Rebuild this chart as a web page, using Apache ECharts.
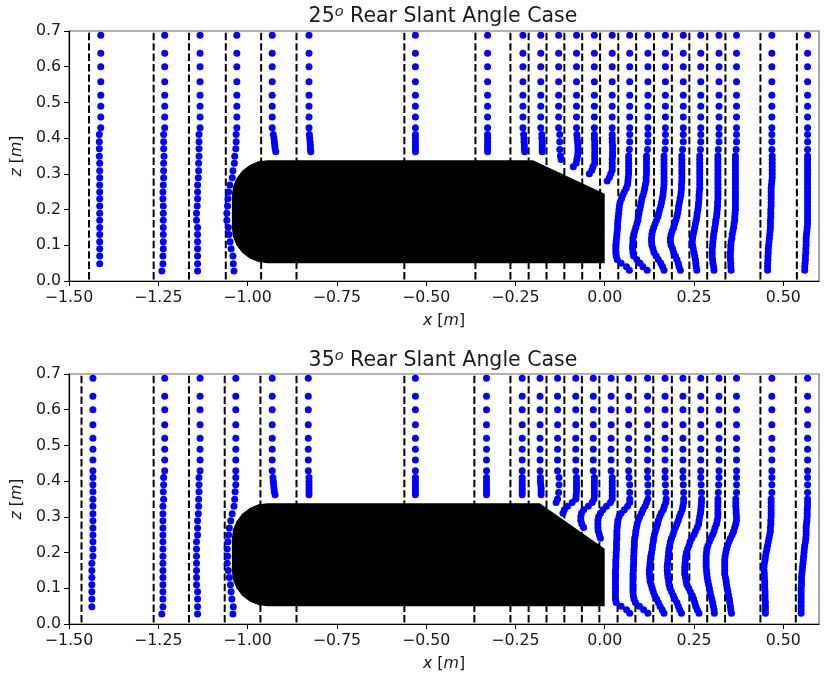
<!DOCTYPE html>
<html>
<head>
<meta charset="utf-8">
<title>Rear slant angle wake profiles</title>
<script src="https://cdn.jsdelivr.net/npm/echarts@6/dist/echarts.min.js"></script>
<style>
  html, body { margin: 0; padding: 0; background: #fff; }
  #chart { width: 840px; height: 676px; }
</style>
</head>
<body>
<div id="chart"></div>
<script>
// tick labels
var xTicks = [-1.5, -1.25, -1, -0.75, -0.5, -0.25, 0, 0.25, 0.5];
var zTicks = [0, 0.1, 0.2, 0.3, 0.4, 0.5, 0.6, 0.7];

// z levels shared by the traverses
var upperZ = [0.688, 0.638, 0.6, 0.558, 0.52, 0.489, 0.459, 0.429];
var coarseZ = [0.41, 0.39, 0.37, 0.349, 0.33, 0.309, 0.289, 0.269, 0.249, 0.23, 0.21, 0.19, 0.17, 0.15, 0.13, 0.11, 0.09, 0.07, 0.048, 0.028];
var roofZ = [0.41, 0.4, 0.39, 0.38, 0.37, 0.362];
var slantZ = [0.41, 0.4, 0.39, 0.38, 0.37, 0.36, 0.35, 0.34, 0.33, 0.32, 0.31, 0.3, 0.29, 0.28, 0.27, 0.26, 0.25, 0.24];
var wakeZ = [0.41, 0.39, 0.368, 0.35, 0.34, 0.33, 0.32, 0.31, 0.3, 0.29, 0.28, 0.27, 0.26, 0.25, 0.24, 0.23, 0.22, 0.21, 0.2, 0.19, 0.18, 0.17, 0.16, 0.15, 0.14, 0.13, 0.12, 0.11, 0.1, 0.09, 0.08, 0.07, 0.06, 0.05, 0.04, 0.03];

// measurement stations (dashed lines)
var topDashX = [-1.444, -1.263, -1.164, -1.061, -0.962, -0.863, -0.561, -0.362, -0.264, -0.213, -0.163, -0.113, -0.063, -0.013, 0.038, 0.088, 0.138, 0.188, 0.237, 0.287, 0.338, 0.436, 0.538];
var botDashX = [-1.465, -1.263, -1.164, -1.064, -0.964, -0.863, -0.561, -0.365, -0.264, -0.213, -0.163, -0.113, -0.064, -0.015, 0.036, 0.086, 0.136, 0.188, 0.237, 0.287, 0.337, 0.436, 0.535];

// x of the dots above z = 0.42, one per traverse
var topUpperX = [-1.411, -1.232, -1.133, -1.03, -0.931, -0.828, -0.53, -0.328, -0.229, -0.179, -0.129, -0.079, -0.029, 0.021, 0.07, 0.121, 0.17, 0.22, 0.269, 0.32, 0.369, 0.468, 0.568];
var botUpperX = [-1.433, -1.232, -1.133, -1.033, -0.931, -0.83, -0.53, -0.331, -0.231, -0.181, -0.132, -0.081, -0.032, 0.018, 0.067, 0.12, 0.169, 0.219, 0.269, 0.32, 0.369, 0.468, 0.568];

// 25 deg case, x of the lower dots
var t01 = [-1.415, -1.415, -1.415, -1.415, -1.414, -1.414, -1.414, -1.414, -1.414, -1.414, -1.414, -1.414, -1.414, -1.414, -1.414, -1.414, -1.414, -1.414, -1.414];
var t02 = [-1.235, -1.235, -1.235, -1.234, -1.235, -1.235, -1.235, -1.236, -1.237, -1.237, -1.236, -1.236, -1.236, -1.236, -1.236, -1.236, -1.236, -1.237, -1.237, -1.24];
var t03 = [-1.136, -1.136, -1.136, -1.136, -1.137, -1.137, -1.138, -1.14, -1.14, -1.14, -1.141, -1.143, -1.143, -1.14, -1.14, -1.14, -1.14, -1.14, -1.14, -1.14];
var t04 = [-1.032, -1.032, -1.033, -1.036, -1.037, -1.041, -1.043, -1.05, -1.053, -1.055, -1.056, -1.058, -1.058, -1.054, -1.052, -1.049, -1.046, -1.041, -1.04, -1.038];
var t05 = [-0.928, -0.926, -0.925, -0.924, -0.923, -0.921];
var t06 = [-0.827, -0.826, -0.825, -0.824, -0.824, -0.823];
var t07 = [-0.53, -0.53, -0.53, -0.53, -0.53, -0.53];
var t08 = [-0.328, -0.328, -0.328, -0.328, -0.328, -0.328];
var t09 = [-0.227, -0.226, -0.226, -0.225, -0.225, -0.224];
var t10 = [-0.176, -0.176, -0.175, -0.175, -0.175, -0.175];
var t11 = [-0.126, -0.126, -0.126, -0.124, -0.122];
var t12 = [-0.078, -0.077, -0.076, -0.075, -0.075, -0.075, -0.076, -0.078, -0.08, -0.088];
var t13 = [-0.029, -0.029, -0.028, -0.028, -0.028, -0.028, -0.028, -0.028, -0.028, -0.033, -0.036, -0.043];
var t14 = [0.021, 0.021, 0.021, 0.022, 0.022, 0.022, 0.022, 0.021, 0.021, 0.021, 0.021, 0.017, 0.013, 0.007];
var t15 = [0.07, 0.07, 0.069, 0.067, 0.067, 0.067, 0.067, 0.067, 0.067, 0.066, 0.065, 0.064, 0.06, 0.055, 0.05, 0.047, 0.043, 0.041, 0.04, 0.039, 0.038, 0.037, 0.036, 0.036, 0.035, 0.034, 0.033, 0.032, 0.031, 0.031, 0.031, 0.032, 0.035, 0.046, 0.061, 0.069];
var t16 = [0.121, 0.121, 0.12, 0.117, 0.117, 0.117, 0.117, 0.117, 0.117, 0.116, 0.116, 0.114, 0.112, 0.11, 0.107, 0.104, 0.102, 0.1, 0.098, 0.096, 0.094, 0.093, 0.09, 0.087, 0.084, 0.081, 0.079, 0.079, 0.078, 0.078, 0.079, 0.081, 0.09, 0.099, 0.107, 0.119];
var t17 = [0.17, 0.17, 0.169, 0.166, 0.166, 0.166, 0.166, 0.166, 0.166, 0.166, 0.166, 0.166, 0.165, 0.164, 0.163, 0.161, 0.159, 0.157, 0.154, 0.151, 0.149, 0.145, 0.141, 0.137, 0.134, 0.132, 0.131, 0.131, 0.132, 0.135, 0.138, 0.144, 0.15, 0.157, 0.162, 0.166];
var t18 = [0.22, 0.22, 0.218, 0.216, 0.216, 0.216, 0.216, 0.216, 0.216, 0.216, 0.216, 0.215, 0.215, 0.214, 0.213, 0.211, 0.209, 0.207, 0.206, 0.204, 0.202, 0.199, 0.196, 0.193, 0.189, 0.186, 0.184, 0.184, 0.186, 0.19, 0.193, 0.198, 0.202, 0.206, 0.208, 0.212];
var t19 = [0.269, 0.269, 0.268, 0.266, 0.266, 0.266, 0.266, 0.266, 0.266, 0.266, 0.266, 0.266, 0.266, 0.265, 0.264, 0.264, 0.263, 0.262, 0.261, 0.259, 0.258, 0.256, 0.254, 0.252, 0.25, 0.248, 0.246, 0.245, 0.246, 0.248, 0.25, 0.252, 0.254, 0.255, 0.256, 0.258];
var t20 = [0.32, 0.32, 0.318, 0.317, 0.317, 0.317, 0.317, 0.317, 0.317, 0.317, 0.317, 0.317, 0.317, 0.317, 0.317, 0.317, 0.316, 0.316, 0.315, 0.314, 0.313, 0.311, 0.31, 0.308, 0.307, 0.305, 0.304, 0.303, 0.302, 0.301, 0.301, 0.301, 0.302, 0.303, 0.305, 0.306];
var t21 = [0.369, 0.369, 0.368, 0.366, 0.366, 0.366, 0.366, 0.366, 0.366, 0.366, 0.366, 0.366, 0.366, 0.366, 0.366, 0.366, 0.366, 0.366, 0.366, 0.365, 0.364, 0.364, 0.362, 0.361, 0.359, 0.357, 0.356, 0.354, 0.353, 0.353, 0.352, 0.352, 0.352, 0.353, 0.353, 0.354];
var t22 = [0.468, 0.468, 0.468, 0.469, 0.469, 0.469, 0.469, 0.469, 0.469, 0.469, 0.468, 0.467, 0.466, 0.466, 0.466, 0.466, 0.466, 0.466, 0.465, 0.465, 0.465, 0.464, 0.464, 0.464, 0.463, 0.462, 0.461, 0.46, 0.459, 0.458, 0.458, 0.457, 0.457, 0.456, 0.456, 0.456];
var t23 = [0.568, 0.568, 0.568, 0.568, 0.568, 0.568, 0.568, 0.568, 0.568, 0.568, 0.568, 0.568, 0.568, 0.568, 0.568, 0.568, 0.568, 0.568, 0.568, 0.568, 0.568, 0.568, 0.568, 0.567, 0.566, 0.565, 0.564, 0.564, 0.564, 0.563, 0.563, 0.562, 0.562, 0.561, 0.56, 0.56];

// 35 deg case, x of the lower dots
var b01 = [-1.433, -1.433, -1.433, -1.433, -1.433, -1.433, -1.433, -1.433, -1.433, -1.433, -1.433, -1.433, -1.436, -1.436, -1.436, -1.436, -1.436, -1.436, -1.436];
var b02 = [-1.235, -1.235, -1.236, -1.235, -1.237, -1.237, -1.237, -1.237, -1.237, -1.237, -1.237, -1.237, -1.237, -1.237, -1.237, -1.237, -1.237, -1.237, -1.237, -1.24];
var b03 = [-1.136, -1.136, -1.136, -1.137, -1.137, -1.138, -1.14, -1.14, -1.14, -1.143, -1.143, -1.143, -1.143, -1.143, -1.143, -1.143, -1.14, -1.14, -1.14, -1.14];
var b04 = [-1.033, -1.033, -1.035, -1.036, -1.038, -1.043, -1.047, -1.051, -1.053, -1.055, -1.057, -1.056, -1.057, -1.054, -1.051, -1.048, -1.046, -1.044, -1.04, -1.041];
var b05 = [-0.929, -0.928, -0.927, -0.926, -0.925, -0.923];
var b06 = [-0.828, -0.828, -0.828, -0.828, -0.828, -0.828];
var b07 = [-0.53, -0.53, -0.53, -0.53, -0.53, -0.53];
var b08 = [-0.331, -0.331, -0.331, -0.331, -0.331, -0.331];
var b09 = [-0.231, -0.231, -0.231, -0.231, -0.231, -0.231];
var b10 = [-0.18, -0.18, -0.179, -0.178, -0.178, -0.178];
var b11 = [-0.128, -0.128, -0.129, -0.132, -0.136];
var b12 = [-0.079, -0.079, -0.079, -0.079, -0.079, -0.08, -0.081, -0.091, -0.104, -0.113, -0.117];
var b13 = [-0.029, -0.029, -0.029, -0.029, -0.029, -0.029, -0.03, -0.035, -0.046, -0.059, -0.065, -0.067, -0.067, -0.064, -0.059];
var b14 = [0.021, 0.021, 0.021, 0.021, 0.021, 0.021, 0.021, 0.016, 0.005, -0.005, -0.012, -0.017, -0.019, -0.019, -0.019, -0.018, -0.015, -0.012];
var b15 = [0.068, 0.07, 0.07, 0.07, 0.07, 0.064, 0.055, 0.046, 0.04, 0.037, 0.036, 0.035, 0.034, 0.034, 0.034, 0.033, 0.033, 0.033, 0.032, 0.032, 0.031, 0.031, 0.031, 0.03, 0.03, 0.03, 0.03, 0.03, 0.03, 0.03, 0.03, 0.03, 0.032, 0.046, 0.061, 0.07];
var b16 = [0.12, 0.121, 0.121, 0.121, 0.117, 0.113, 0.107, 0.103, 0.098, 0.094, 0.091, 0.089, 0.087, 0.086, 0.084, 0.083, 0.083, 0.082, 0.082, 0.081, 0.081, 0.081, 0.08, 0.08, 0.079, 0.079, 0.079, 0.079, 0.079, 0.079, 0.08, 0.082, 0.086, 0.097, 0.109, 0.121];
var b17 = [0.169, 0.17, 0.171, 0.172, 0.171, 0.167, 0.164, 0.158, 0.154, 0.15, 0.148, 0.145, 0.142, 0.139, 0.137, 0.136, 0.134, 0.133, 0.131, 0.129, 0.128, 0.127, 0.126, 0.125, 0.125, 0.126, 0.127, 0.13, 0.133, 0.136, 0.14, 0.145, 0.15, 0.155, 0.161, 0.166];
var b18 = [0.219, 0.22, 0.221, 0.221, 0.221, 0.219, 0.217, 0.213, 0.209, 0.206, 0.202, 0.198, 0.194, 0.191, 0.187, 0.184, 0.182, 0.18, 0.179, 0.178, 0.177, 0.176, 0.175, 0.175, 0.176, 0.177, 0.179, 0.18, 0.183, 0.187, 0.192, 0.196, 0.202, 0.206, 0.21, 0.215];
var b19 = [0.269, 0.27, 0.271, 0.271, 0.271, 0.27, 0.269, 0.268, 0.266, 0.264, 0.263, 0.259, 0.254, 0.25, 0.244, 0.239, 0.236, 0.232, 0.229, 0.227, 0.226, 0.225, 0.224, 0.224, 0.224, 0.226, 0.228, 0.23, 0.235, 0.24, 0.245, 0.249, 0.252, 0.255, 0.259, 0.264];
var b20 = [0.32, 0.319, 0.318, 0.317, 0.317, 0.317, 0.317, 0.317, 0.317, 0.315, 0.313, 0.309, 0.306, 0.302, 0.297, 0.293, 0.289, 0.286, 0.285, 0.284, 0.284, 0.284, 0.284, 0.285, 0.286, 0.287, 0.289, 0.291, 0.293, 0.295, 0.297, 0.3, 0.302, 0.304, 0.306, 0.307];
var b21 = [0.369, 0.369, 0.369, 0.367, 0.367, 0.367, 0.368, 0.368, 0.369, 0.369, 0.367, 0.364, 0.361, 0.357, 0.352, 0.348, 0.344, 0.341, 0.339, 0.337, 0.336, 0.336, 0.336, 0.336, 0.336, 0.338, 0.34, 0.341, 0.343, 0.345, 0.347, 0.349, 0.35, 0.352, 0.353, 0.355];
var b22 = [0.468, 0.468, 0.468, 0.466, 0.466, 0.466, 0.466, 0.466, 0.466, 0.465, 0.465, 0.464, 0.464, 0.462, 0.46, 0.458, 0.456, 0.454, 0.452, 0.45, 0.449, 0.447, 0.446, 0.446, 0.447, 0.447, 0.448, 0.448, 0.448, 0.449, 0.449, 0.449, 0.45, 0.45, 0.45, 0.45];
var b23 = [0.568, 0.568, 0.568, 0.568, 0.568, 0.568, 0.567, 0.567, 0.567, 0.566, 0.565, 0.564, 0.564, 0.564, 0.563, 0.562, 0.56, 0.559, 0.558, 0.557, 0.556, 0.555, 0.554, 0.553, 0.552, 0.551, 0.551, 0.551, 0.55, 0.55, 0.55, 0.55, 0.55, 0.55, 0.55, 0.55];

var topLower = [t01, t02, t03, t04, t05, t06, t07, t08, t09, t10, t11, t12, t13, t14, t15, t16, t17, t18, t19, t20, t21, t22, t23];
var botLower = [b01, b02, b03, b04, b05, b06, b07, b08, b09, b10, b11, b12, b13, b14, b15, b16, b17, b18, b19, b20, b21, b22, b23];
var lowerZ = [coarseZ, coarseZ, coarseZ, coarseZ, roofZ, roofZ, roofZ, roofZ, roofZ, roofZ, wakeZ, slantZ, slantZ, slantZ, wakeZ, wakeZ, wakeZ, wakeZ, wakeZ, wakeZ, wakeZ, wakeZ, wakeZ];

// body outline, nose and underside are the same in both cases
var noseX = [0, -0.944, -0.97, -0.994, -1.015, -1.031, -1.041, -1.044, -1.044, -1.041, -1.031, -1.015, -0.994, -0.97, -0.944];
var noseZ = [0.05, 0.05, 0.053, 0.063, 0.079, 0.1, 0.124, 0.15, 0.238, 0.264, 0.288, 0.309, 0.325, 0.335, 0.338];
var topSlantX = [-0.201, 0];
var topSlantZ = [0.338, 0.244];
var botSlantX = [-0.182, 0];
var botSlantZ = [0.338, 0.211];

var FONT = 'DejaVu Sans';
var INK = '#1a1a1a';

function minus(s) {
  return s.replace('-', '\u2212');
}

function stationDots(upperX, lower) {
  var pts = [];
  upperX.forEach(function (x, i) {
    upperZ.forEach(function (z) { pts.push([x, z]); });
    lower[i].forEach(function (lx, j) { pts.push([lx, lowerZ[i][j]]); });
  });
  return pts;
}

function buildAxes(idx) {
  var labelStyle = { fontFamily: FONT, fontSize: 15.8, color: INK };
  var rich = { i: { fontFamily: FONT, fontSize: 15.8, fontStyle: 'italic', color: INK } };
  return {
    x: {
      type: 'value', gridIndex: idx, min: -1.5, max: 0.6,
      name: '{i|x} [{i|m}]', nameLocation: 'middle', nameGap: 32,
      nameTextStyle: Object.assign({ rich: rich }, labelStyle),
      splitLine: { show: false },
      axisLine: { onZero: false, lineStyle: { color: '#000', width: 1.2 } },
      axisTick: { length: 5, customValues: xTicks, lineStyle: { color: '#000', width: 1 } },
      axisLabel: Object.assign({
        customValues: xTicks, margin: 9,
        formatter: function (v) { return minus(v.toFixed(2)); }
      }, labelStyle)
    },
    y: {
      type: 'value', gridIndex: idx, min: 0, max: 0.7,
      name: '{i|z} [{i|m}]', nameLocation: 'middle', nameGap: 43,
      nameTextStyle: Object.assign({ rich: rich }, labelStyle),
      splitLine: { show: false },
      axisLine: { onZero: false, lineStyle: { color: '#000', width: 1.2 } },
      axisTick: { length: 5, customValues: zTicks, lineStyle: { color: '#000', width: 1 } },
      axisLabel: Object.assign({
        customValues: zTicks, margin: 8,
        formatter: function (v) { return v.toFixed(1); }
      }, labelStyle)
    }
  };
}

function buildSeries(idx, dashX, upperX, lower, slantX, slantZVals) {
  var out = [];
  dashX.forEach(function (x) {
    out.push({
      type: 'line', xAxisIndex: idx, yAxisIndex: idx, silent: true,
      symbol: 'none', z: 2,
      data: [[x, 0.695], [x, 0]],
      lineStyle: { color: '#000', width: 2, type: [7.4, 3] }
    });
  });
  out.push({
    type: 'scatter', xAxisIndex: idx, yAxisIndex: idx, z: 3,
    symbolSize: 7, itemStyle: { color: '#0000ff', opacity: 1 },
    data: stationDots(upperX, lower)
  });
  out.push({
    type: 'custom', xAxisIndex: idx, yAxisIndex: idx, z: 4, silent: true,
    data: [0],
    renderItem: function (params, api) {
      var pts = noseX.map(function (x, i) { return api.coord([x, noseZ[i]]); });
      slantX.forEach(function (x, i) { pts.push(api.coord([x, slantZVals[i]])); });
      return { type: 'polygon', shape: { points: pts }, style: { fill: '#000' } };
    }
  });
  return out;
}

var axes0 = buildAxes(0);
var axes1 = buildAxes(1);

var titleStyle = {
  fontFamily: FONT, fontSize: 20.5, fontWeight: 'normal', color: INK,
  rich: { sup: { fontFamily: FONT, fontSize: 14.5, fontStyle: 'italic', color: INK, verticalAlign: 'top', lineHeight: 24 } }
};

var chart = echarts.init(document.getElementById('chart'), null, { renderer: 'canvas' });
chart.setOption({
  animation: false,
  backgroundColor: '#fff',
  title: [
    { text: '25{sup|o} Rear Slant Angle Case', left: 438, top: 0, textAlign: 'center', textStyle: titleStyle },
    { text: '35{sup|o} Rear Slant Angle Case', left: 438, top: 344, textAlign: 'center', textStyle: titleStyle }
  ],
  grid: [
    { left: 69, top: 31, width: 750, height: 250, show: true, borderColor: '#666', borderWidth: 1.2 },
    { left: 69, top: 374, width: 750, height: 250, show: true, borderColor: '#666', borderWidth: 1.2 }
  ],
  xAxis: [axes0.x, axes1.x],
  yAxis: [axes0.y, axes1.y],
  series: buildSeries(0, topDashX, topUpperX, topLower, topSlantX, topSlantZ)
    .concat(buildSeries(1, botDashX, botUpperX, botLower, botSlantX, botSlantZ))
});
</script>
</body>
</html>
